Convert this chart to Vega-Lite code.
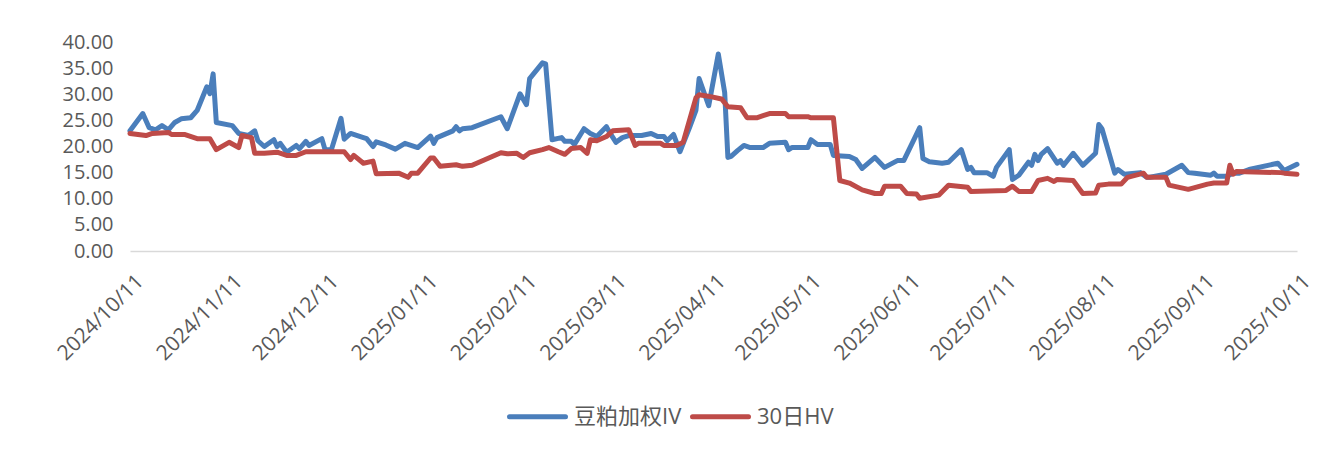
{
"$schema": "https://vega.github.io/schema/vega-lite/v6.json",
"width": 1167,
"height": 209,
"autosize": {"type": "none"},
"padding": {"left": 130, "top": 42, "right": 20, "bottom": 199},
"background": "white",
"config": {"view": {"stroke": null}, "font": "Open Sans"},
"data": {"values": [
{"date":"2024/10/11","series":"豆粕加权IV","value":23.0},
{"date":"2024/10/15","series":"豆粕加权IV","value":26.3},
{"date":"2024/10/17","series":"豆粕加权IV","value":23.6},
{"date":"2024/10/19","series":"豆粕加权IV","value":23.2},
{"date":"2024/10/21","series":"豆粕加权IV","value":24.0},
{"date":"2024/10/23","series":"豆粕加权IV","value":23.2},
{"date":"2024/10/25","series":"豆粕加权IV","value":24.6},
{"date":"2024/10/27","series":"豆粕加权IV","value":25.3},
{"date":"2024/10/30","series":"豆粕加权IV","value":25.5},
{"date":"2024/11/01","series":"豆粕加权IV","value":26.9},
{"date":"2024/11/04","series":"豆粕加权IV","value":31.4},
{"date":"2024/11/05","series":"豆粕加权IV","value":30.1},
{"date":"2024/11/06","series":"豆粕加权IV","value":33.9},
{"date":"2024/11/07","series":"豆粕加权IV","value":24.6},
{"date":"2024/11/12","series":"豆粕加权IV","value":24.0},
{"date":"2024/11/14","series":"豆粕加权IV","value":22.5},
{"date":"2024/11/17","series":"豆粕加权IV","value":22.1},
{"date":"2024/11/19","series":"豆粕加权IV","value":23.0},
{"date":"2024/11/20","series":"豆粕加权IV","value":21.1},
{"date":"2024/11/22","series":"豆粕加权IV","value":20.0},
{"date":"2024/11/25","series":"豆粕加权IV","value":21.3},
{"date":"2024/11/26","series":"豆粕加权IV","value":20.0},
{"date":"2024/11/27","series":"豆粕加权IV","value":20.6},
{"date":"2024/11/29","series":"豆粕加权IV","value":18.9},
{"date":"2024/12/02","series":"豆粕加权IV","value":20.2},
{"date":"2024/12/03","series":"豆粕加权IV","value":19.6},
{"date":"2024/12/05","series":"豆粕加权IV","value":21.0},
{"date":"2024/12/06","series":"豆粕加权IV","value":20.2},
{"date":"2024/12/10","series":"豆粕加权IV","value":21.5},
{"date":"2024/12/11","series":"豆粕加权IV","value":19.4},
{"date":"2024/12/13","series":"豆粕加权IV","value":19.4},
{"date":"2024/12/16","series":"豆粕加权IV","value":25.4},
{"date":"2024/12/17","series":"豆粕加权IV","value":21.4},
{"date":"2024/12/19","series":"豆粕加权IV","value":22.5},
{"date":"2024/12/23","series":"豆粕加权IV","value":21.7},
{"date":"2024/12/24","series":"豆粕加权IV","value":21.5},
{"date":"2024/12/26","series":"豆粕加权IV","value":20.0},
{"date":"2024/12/27","series":"豆粕加权IV","value":20.9},
{"date":"2024/12/30","series":"豆粕加权IV","value":20.3},
{"date":"2025/01/02","series":"豆粕加权IV","value":19.5},
{"date":"2025/01/05","series":"豆粕加权IV","value":20.6},
{"date":"2025/01/09","series":"豆粕加权IV","value":19.8},
{"date":"2025/01/13","series":"豆粕加权IV","value":22.0},
{"date":"2025/01/14","series":"豆粕加权IV","value":20.6},
{"date":"2025/01/15","series":"豆粕加权IV","value":21.7},
{"date":"2025/01/20","series":"豆粕加权IV","value":23.0},
{"date":"2025/01/21","series":"豆粕加权IV","value":23.8},
{"date":"2025/01/22","series":"豆粕加权IV","value":23.0},
{"date":"2025/01/23","series":"豆粕加权IV","value":23.4},
{"date":"2025/01/26","series":"豆粕加权IV","value":23.6},
{"date":"2025/02/04","series":"豆粕加权IV","value":25.7},
{"date":"2025/02/06","series":"豆粕加权IV","value":23.4},
{"date":"2025/02/10","series":"豆粕加权IV","value":30.1},
{"date":"2025/02/12","series":"豆粕加权IV","value":28.0},
{"date":"2025/02/13","series":"豆粕加权IV","value":33.0},
{"date":"2025/02/17","series":"豆粕加权IV","value":36.0},
{"date":"2025/02/18","series":"豆粕加权IV","value":35.8},
{"date":"2025/02/20","series":"豆粕加权IV","value":21.3},
{"date":"2025/02/23","series":"豆粕加权IV","value":21.7},
{"date":"2025/02/24","series":"豆粕加权IV","value":21.0},
{"date":"2025/02/26","series":"豆粕加权IV","value":21.0},
{"date":"2025/02/27","series":"豆粕加权IV","value":20.4},
{"date":"2025/03/02","series":"豆粕加权IV","value":23.4},
{"date":"2025/03/04","series":"豆粕加权IV","value":22.5},
{"date":"2025/03/06","series":"豆粕加权IV","value":21.9},
{"date":"2025/03/09","series":"豆粕加权IV","value":23.8},
{"date":"2025/03/10","series":"豆粕加权IV","value":22.7},
{"date":"2025/03/12","series":"豆粕加权IV","value":20.8},
{"date":"2025/03/14","series":"豆粕加权IV","value":21.7},
{"date":"2025/03/16","series":"豆粕加权IV","value":22.1},
{"date":"2025/03/20","series":"豆粕加权IV","value":22.1},
{"date":"2025/03/23","series":"豆粕加权IV","value":22.5},
{"date":"2025/03/25","series":"豆粕加权IV","value":21.9},
{"date":"2025/03/27","series":"豆粕加权IV","value":21.9},
{"date":"2025/03/28","series":"豆粕加权IV","value":21.1},
{"date":"2025/03/30","series":"豆粕加权IV","value":22.3},
{"date":"2025/04/01","series":"豆粕加权IV","value":19.0},
{"date":"2025/04/04","series":"豆粕加权IV","value":23.6},
{"date":"2025/04/06","series":"豆粕加权IV","value":26.9},
{"date":"2025/04/07","series":"豆粕加权IV","value":33.0},
{"date":"2025/04/10","series":"豆粕加权IV","value":27.8},
{"date":"2025/04/13","series":"豆粕加权IV","value":37.7},
{"date":"2025/04/15","series":"豆粕加权IV","value":30.3},
{"date":"2025/04/16","series":"豆粕加权IV","value":17.9},
{"date":"2025/04/17","series":"豆粕加权IV","value":18.1},
{"date":"2025/04/19","series":"豆粕加权IV","value":19.2},
{"date":"2025/04/21","series":"豆粕加权IV","value":20.2},
{"date":"2025/04/23","series":"豆粕加权IV","value":19.8},
{"date":"2025/04/27","series":"豆粕加权IV","value":19.8},
{"date":"2025/04/29","series":"豆粕加权IV","value":20.6},
{"date":"2025/05/04","series":"豆粕加权IV","value":20.8},
{"date":"2025/05/05","series":"豆粕加权IV","value":19.4},
{"date":"2025/05/06","series":"豆粕加权IV","value":19.8},
{"date":"2025/05/11","series":"豆粕加权IV","value":19.8},
{"date":"2025/05/12","series":"豆粕加权IV","value":21.3},
{"date":"2025/05/14","series":"豆粕加权IV","value":20.4},
{"date":"2025/05/18","series":"豆粕加权IV","value":20.4},
{"date":"2025/05/19","series":"豆粕加权IV","value":18.3},
{"date":"2025/05/24","series":"豆粕加权IV","value":18.1},
{"date":"2025/05/26","series":"豆粕加权IV","value":17.5},
{"date":"2025/05/28","series":"豆粕加权IV","value":15.8},
{"date":"2025/06/01","series":"豆粕加权IV","value":17.9},
{"date":"2025/06/04","series":"豆粕加权IV","value":16.0},
{"date":"2025/06/08","series":"豆粕加权IV","value":17.3},
{"date":"2025/06/10","series":"豆粕加权IV","value":17.3},
{"date":"2025/06/15","series":"豆粕加权IV","value":23.6},
{"date":"2025/06/16","series":"豆粕加权IV","value":17.7},
{"date":"2025/06/18","series":"豆粕加权IV","value":17.1},
{"date":"2025/06/22","series":"豆粕加权IV","value":16.8},
{"date":"2025/06/24","series":"豆粕加权IV","value":17.0},
{"date":"2025/06/28","series":"豆粕加权IV","value":19.4},
{"date":"2025/06/30","series":"豆粕加权IV","value":15.6},
{"date":"2025/07/01","series":"豆粕加权IV","value":16.0},
{"date":"2025/07/02","series":"豆粕加权IV","value":15.0},
{"date":"2025/07/06","series":"豆粕加权IV","value":15.0},
{"date":"2025/07/08","series":"豆粕加权IV","value":14.3},
{"date":"2025/07/09","series":"豆粕加权IV","value":16.0},
{"date":"2025/07/13","series":"豆粕加权IV","value":19.4},
{"date":"2025/07/14","series":"豆粕加权IV","value":13.7},
{"date":"2025/07/16","series":"豆粕加权IV","value":14.5},
{"date":"2025/07/19","series":"豆粕加权IV","value":17.0},
{"date":"2025/07/20","series":"豆粕加权IV","value":16.4},
{"date":"2025/07/21","series":"豆粕加权IV","value":18.5},
{"date":"2025/07/22","series":"豆粕加权IV","value":17.3},
{"date":"2025/07/23","series":"豆粕加权IV","value":18.5},
{"date":"2025/07/25","series":"豆粕加权IV","value":19.6},
{"date":"2025/07/28","series":"豆粕加权IV","value":16.8},
{"date":"2025/07/29","series":"豆粕加权IV","value":17.3},
{"date":"2025/07/30","series":"豆粕加权IV","value":16.4},
{"date":"2025/08/02","series":"豆粕加权IV","value":18.7},
{"date":"2025/08/05","series":"豆粕加权IV","value":16.4},
{"date":"2025/08/09","series":"豆粕加权IV","value":18.7},
{"date":"2025/08/10","series":"豆粕加权IV","value":24.2},
{"date":"2025/08/11","series":"豆粕加权IV","value":23.4},
{"date":"2025/08/15","series":"豆粕加权IV","value":14.9},
{"date":"2025/08/16","series":"豆粕加权IV","value":15.6},
{"date":"2025/08/18","series":"豆粕加权IV","value":14.7},
{"date":"2025/08/23","series":"豆粕加权IV","value":15.0},
{"date":"2025/08/25","series":"豆粕加权IV","value":14.1},
{"date":"2025/08/26","series":"豆粕加权IV","value":14.1},
{"date":"2025/08/31","series":"豆粕加权IV","value":14.7},
{"date":"2025/09/05","series":"豆粕加权IV","value":16.4},
{"date":"2025/09/07","series":"豆粕加权IV","value":15.0},
{"date":"2025/09/09","series":"豆粕加权IV","value":14.9},
{"date":"2025/09/14","series":"豆粕加权IV","value":14.5},
{"date":"2025/09/15","series":"豆粕加权IV","value":14.9},
{"date":"2025/09/16","series":"豆粕加权IV","value":14.3},
{"date":"2025/09/19","series":"豆粕加权IV","value":14.3},
{"date":"2025/09/21","series":"豆粕加权IV","value":14.9},
{"date":"2025/09/23","series":"豆粕加权IV","value":14.9},
{"date":"2025/09/26","series":"豆粕加权IV","value":15.6},
{"date":"2025/10/05","series":"豆粕加权IV","value":16.8},
{"date":"2025/10/07","series":"豆粕加权IV","value":15.4},
{"date":"2025/10/11","series":"豆粕加权IV","value":16.6},
{"date":"2024/10/11","series":"30日HV","value":22.5},
{"date":"2024/10/16","series":"30日HV","value":22.1},
{"date":"2024/10/18","series":"30日HV","value":22.5},
{"date":"2024/10/23","series":"30日HV","value":22.7},
{"date":"2024/10/24","series":"30日HV","value":22.3},
{"date":"2024/10/28","series":"30日HV","value":22.3},
{"date":"2024/11/01","series":"30日HV","value":21.5},
{"date":"2024/11/05","series":"30日HV","value":21.5},
{"date":"2024/11/07","series":"30日HV","value":19.4},
{"date":"2024/11/11","series":"30日HV","value":20.8},
{"date":"2024/11/14","series":"30日HV","value":19.8},
{"date":"2024/11/15","series":"30日HV","value":22.1},
{"date":"2024/11/18","series":"30日HV","value":21.7},
{"date":"2024/11/19","series":"30日HV","value":18.7},
{"date":"2024/11/22","series":"30日HV","value":18.7},
{"date":"2024/11/26","series":"30日HV","value":18.9},
{"date":"2024/11/29","series":"30日HV","value":18.3},
{"date":"2024/12/02","series":"30日HV","value":18.3},
{"date":"2024/12/05","series":"30日HV","value":19.0},
{"date":"2024/12/17","series":"30日HV","value":19.0},
{"date":"2024/12/19","series":"30日HV","value":17.5},
{"date":"2024/12/20","series":"30日HV","value":18.3},
{"date":"2024/12/23","series":"30日HV","value":16.8},
{"date":"2024/12/26","series":"30日HV","value":17.2},
{"date":"2024/12/27","series":"30日HV","value":14.8},
{"date":"2025/01/03","series":"30日HV","value":14.9},
{"date":"2025/01/06","series":"30日HV","value":14.1},
{"date":"2025/01/07","series":"30日HV","value":14.9},
{"date":"2025/01/09","series":"30日HV","value":14.9},
{"date":"2025/01/13","series":"30日HV","value":17.8},
{"date":"2025/01/14","series":"30日HV","value":17.8},
{"date":"2025/01/16","series":"30日HV","value":16.2},
{"date":"2025/01/21","series":"30日HV","value":16.5},
{"date":"2025/01/23","series":"30日HV","value":16.2},
{"date":"2025/01/26","series":"30日HV","value":16.4},
{"date":"2025/02/04","series":"30日HV","value":18.8},
{"date":"2025/02/06","series":"30日HV","value":18.6},
{"date":"2025/02/09","series":"30日HV","value":18.7},
{"date":"2025/02/11","series":"30日HV","value":17.9},
{"date":"2025/02/13","series":"30日HV","value":18.8},
{"date":"2025/02/17","series":"30日HV","value":19.4},
{"date":"2025/02/19","series":"30日HV","value":19.8},
{"date":"2025/02/22","series":"30日HV","value":19.0},
{"date":"2025/02/24","series":"30日HV","value":18.5},
{"date":"2025/02/26","series":"30日HV","value":19.6},
{"date":"2025/03/01","series":"30日HV","value":19.8},
{"date":"2025/03/03","series":"30日HV","value":18.7},
{"date":"2025/03/04","series":"30日HV","value":21.3},
{"date":"2025/03/06","series":"30日HV","value":21.1},
{"date":"2025/03/09","series":"30日HV","value":21.9},
{"date":"2025/03/11","series":"30日HV","value":23.0},
{"date":"2025/03/16","series":"30日HV","value":23.2},
{"date":"2025/03/18","series":"30日HV","value":20.2},
{"date":"2025/03/19","series":"30日HV","value":20.6},
{"date":"2025/03/26","series":"30日HV","value":20.6},
{"date":"2025/03/27","series":"30日HV","value":20.2},
{"date":"2025/03/31","series":"30日HV","value":20.2},
{"date":"2025/04/02","series":"30日HV","value":20.8},
{"date":"2025/04/06","series":"30日HV","value":29.3},
{"date":"2025/04/07","series":"30日HV","value":29.9},
{"date":"2025/04/11","series":"30日HV","value":29.5},
{"date":"2025/04/14","series":"30日HV","value":29.1},
{"date":"2025/04/16","series":"30日HV","value":27.6},
{"date":"2025/04/20","series":"30日HV","value":27.4},
{"date":"2025/04/22","series":"30日HV","value":25.5},
{"date":"2025/04/25","series":"30日HV","value":25.5},
{"date":"2025/04/27","series":"30日HV","value":25.9},
{"date":"2025/04/29","series":"30日HV","value":26.3},
{"date":"2025/05/04","series":"30日HV","value":26.3},
{"date":"2025/05/05","series":"30日HV","value":25.7},
{"date":"2025/05/11","series":"30日HV","value":25.7},
{"date":"2025/05/12","series":"30日HV","value":25.5},
{"date":"2025/05/19","series":"30日HV","value":25.5},
{"date":"2025/05/21","series":"30日HV","value":13.5},
{"date":"2025/05/24","series":"30日HV","value":13.0},
{"date":"2025/05/28","series":"30日HV","value":11.7},
{"date":"2025/06/01","series":"30日HV","value":11.0},
{"date":"2025/06/03","series":"30日HV","value":11.0},
{"date":"2025/06/04","series":"30日HV","value":12.4},
{"date":"2025/06/09","series":"30日HV","value":12.4},
{"date":"2025/06/11","series":"30日HV","value":11.0},
{"date":"2025/06/14","series":"30日HV","value":10.9},
{"date":"2025/06/15","series":"30日HV","value":10.1},
{"date":"2025/06/21","series":"30日HV","value":10.7},
{"date":"2025/06/24","series":"30日HV","value":12.6},
{"date":"2025/06/30","series":"30日HV","value":12.2},
{"date":"2025/07/01","series":"30日HV","value":11.4},
{"date":"2025/07/12","series":"30日HV","value":11.6},
{"date":"2025/07/14","series":"30日HV","value":12.4},
{"date":"2025/07/16","series":"30日HV","value":11.4},
{"date":"2025/07/20","series":"30日HV","value":11.4},
{"date":"2025/07/22","series":"30日HV","value":13.5},
{"date":"2025/07/25","series":"30日HV","value":13.9},
{"date":"2025/07/27","series":"30日HV","value":13.3},
{"date":"2025/07/28","series":"30日HV","value":13.7},
{"date":"2025/08/02","series":"30日HV","value":13.5},
{"date":"2025/08/05","series":"30日HV","value":11.0},
{"date":"2025/08/09","series":"30日HV","value":11.1},
{"date":"2025/08/10","series":"30日HV","value":12.6},
{"date":"2025/08/13","series":"30日HV","value":12.8},
{"date":"2025/08/17","series":"30日HV","value":12.8},
{"date":"2025/08/19","series":"30日HV","value":14.1},
{"date":"2025/08/24","series":"30日HV","value":14.9},
{"date":"2025/08/25","series":"30日HV","value":14.1},
{"date":"2025/08/31","series":"30日HV","value":14.1},
{"date":"2025/09/01","series":"30日HV","value":12.6},
{"date":"2025/09/07","series":"30日HV","value":11.8},
{"date":"2025/09/13","series":"30日HV","value":12.8},
{"date":"2025/09/15","series":"30日HV","value":13.0},
{"date":"2025/09/19","series":"30日HV","value":13.0},
{"date":"2025/09/20","series":"30日HV","value":16.4},
{"date":"2025/09/21","series":"30日HV","value":14.7},
{"date":"2025/09/22","series":"30日HV","value":15.2},
{"date":"2025/10/06","series":"30日HV","value":15.0},
{"date":"2025/10/07","series":"30日HV","value":14.9},
{"date":"2025/10/11","series":"30日HV","value":14.7}
]},
"mark": {"type": "line", "strokeWidth": 5, "strokeJoin": "round", "strokeCap": "round", "clip": false},
"encoding": {
  "x": {
    "field": "date", "type": "temporal",
    "scale": {"domain": [{"year": 2024, "month": 10, "date": 11}, {"year": 2025, "month": 10, "date": 11}]},
    "axis": {
      "title": null,
      "values": [
        {"year": 2024, "month": 10, "date": 11}, {"year": 2024, "month": 11, "date": 11}, {"year": 2024, "month": 12, "date": 11},
        {"year": 2025, "month": 1, "date": 11}, {"year": 2025, "month": 2, "date": 11}, {"year": 2025, "month": 3, "date": 11},
        {"year": 2025, "month": 4, "date": 11}, {"year": 2025, "month": 5, "date": 11}, {"year": 2025, "month": 6, "date": 11},
        {"year": 2025, "month": 7, "date": 11}, {"year": 2025, "month": 8, "date": 11}, {"year": 2025, "month": 9, "date": 11},
        {"year": 2025, "month": 10, "date": 11}
      ],
      "format": "%Y/%m/%d",
      "labelAngle": -45, "labelAlign": "right", "labelBaseline": "middle",
      "labelPadding": 27, "labelOffset": 10,
      "ticks": false, "grid": false,
      "domainColor": "#D9D9D9", "domainWidth": 1.5,
      "labelFontSize": 21, "labelColor": "#595959", "labelFont": "Open Sans",
      "labelOverlap": false, "labelBound": false, "labelFlush": false
    }
  },
  "y": {
    "field": "value", "type": "quantitative",
    "scale": {"domain": [0, 40], "nice": false},
    "axis": {
      "title": null, "values": [0, 5, 10, 15, 20, 25, 30, 35, 40], "format": ".2f",
      "domain": false, "ticks": false, "grid": false,
      "labelPadding": 17, "labelFontSize": 20, "labelColor": "#595959", "labelFont": "Open Sans"
    }
  },
  "color": {
    "field": "series", "type": "nominal",
    "scale": {"domain": ["豆粕加权IV", "30日HV"], "range": ["#4A7EBB", "#BE4B48"]},
    "legend": {
      "title": null, "orient": "none", "legendX": 377, "legendY": 344, "direction": "horizontal",
      "symbolType": "stroke", "symbolSize": 3136, "symbolStrokeWidth": 5,
      "labelFontSize": 22, "labelColor": "#595959", "labelFont": "Open Sans, Noto Sans CJK SC",
      "labelOffset": 6, "columnPadding": 0, "padding": 0,
      "encode": {"symbols": {"update": {"strokeCap": {"value": "round"}}}}
    }
  }
}
}
